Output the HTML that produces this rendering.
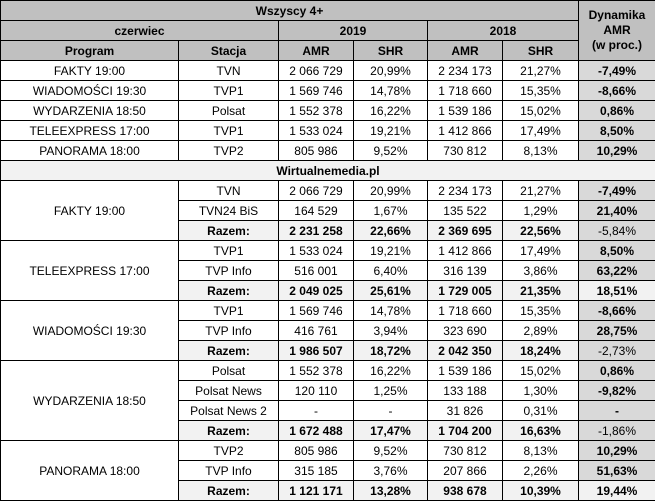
<!DOCTYPE html>
<html><head><meta charset="utf-8"><style>
html,body{margin:0;padding:0;background:#fff;width:655px;height:501px;overflow:hidden}
table{border-collapse:collapse;table-layout:fixed;width:655px;font-family:"Liberation Sans",Arial,sans-serif;font-size:12px;color:#000}
td{border:1px solid #000;height:19px;padding:0;text-align:center;vertical-align:middle;white-space:nowrap;overflow:hidden;line-height:14px}
.h{background:#c0c0c0;font-weight:bold}
.d{background:#d9d9d9;font-weight:bold}
.dn{background:#d9d9d9}
.r td{background:#f2f2f2;font-weight:bold}
.r td.dn{background:#d9d9d9;font-weight:normal}
.w{background:#f2f2f2;font-weight:bold}
</style></head><body>
<table>
<colgroup><col style="width:178px"><col style="width:100px"><col style="width:75px"><col style="width:74px"><col style="width:75px"><col style="width:76px"><col style="width:77px"></colgroup>
<tr><td class="h" colspan="6">Wszyscy 4+</td><td class="h" rowspan="3" style="line-height:15px">Dynamika<br>AMR<br>(w proc.)</td></tr>
<tr><td class="h" colspan="2">czerwiec</td><td class="h" colspan="2">2019</td><td class="h" colspan="2">2018</td></tr>
<tr><td class="h">Program</td><td class="h">Stacja</td><td class="h">AMR</td><td class="h">SHR</td><td class="h">AMR</td><td class="h">SHR</td></tr>
<tr><td>FAKTY 19:00</td><td>TVN</td><td>2 066 729</td><td>20,99%</td><td>2 234 173</td><td>21,27%</td><td class="d">-7,49%</td></tr>
<tr><td>WIADOMOŚCI 19:30</td><td>TVP1</td><td>1 569 746</td><td>14,78%</td><td>1 718 660</td><td>15,35%</td><td class="d">-8,66%</td></tr>
<tr><td>WYDARZENIA 18:50</td><td>Polsat</td><td>1 552 378</td><td>16,22%</td><td>1 539 186</td><td>15,02%</td><td class="d">0,86%</td></tr>
<tr><td>TELEEXPRESS 17:00</td><td>TVP1</td><td>1 533 024</td><td>19,21%</td><td>1 412 866</td><td>17,49%</td><td class="d">8,50%</td></tr>
<tr><td>PANORAMA 18:00</td><td>TVP2</td><td>805 986</td><td>9,52%</td><td>730 812</td><td>8,13%</td><td class="d">10,29%</td></tr>
<tr><td class="w" colspan="7">Wirtualnemedia.pl</td></tr>
<tr><td rowspan="3">FAKTY 19:00</td><td>TVN</td><td>2 066 729</td><td>20,99%</td><td>2 234 173</td><td>21,27%</td><td class="d">-7,49%</td></tr>
<tr><td>TVN24 BiS</td><td>164 529</td><td>1,67%</td><td>135 522</td><td>1,29%</td><td class="d">21,40%</td></tr>
<tr class="r"><td>Razem:</td><td>2 231 258</td><td>22,66%</td><td>2 369 695</td><td>22,56%</td><td class="dn">-5,84%</td></tr>
<tr><td rowspan="3">TELEEXPRESS 17:00</td><td>TVP1</td><td>1 533 024</td><td>19,21%</td><td>1 412 866</td><td>17,49%</td><td class="d">8,50%</td></tr>
<tr><td>TVP Info</td><td>516 001</td><td>6,40%</td><td>316 139</td><td>3,86%</td><td class="d">63,22%</td></tr>
<tr class="r"><td>Razem:</td><td>2 049 025</td><td>25,61%</td><td>1 729 005</td><td>21,35%</td><td class="d">18,51%</td></tr>
<tr><td rowspan="3">WIADOMOŚCI 19:30</td><td>TVP1</td><td>1 569 746</td><td>14,78%</td><td>1 718 660</td><td>15,35%</td><td class="d">-8,66%</td></tr>
<tr><td>TVP Info</td><td>416 761</td><td>3,94%</td><td>323 690</td><td>2,89%</td><td class="d">28,75%</td></tr>
<tr class="r"><td>Razem:</td><td>1 986 507</td><td>18,72%</td><td>2 042 350</td><td>18,24%</td><td class="dn">-2,73%</td></tr>
<tr><td rowspan="4">WYDARZENIA 18:50</td><td>Polsat</td><td>1 552 378</td><td>16,22%</td><td>1 539 186</td><td>15,02%</td><td class="d">0,86%</td></tr>
<tr><td>Polsat News</td><td>120 110</td><td>1,25%</td><td>133 188</td><td>1,30%</td><td class="d">-9,82%</td></tr>
<tr><td>Polsat News 2</td><td>-</td><td>-</td><td>31 826</td><td>0,31%</td><td class="d">-</td></tr>
<tr class="r"><td>Razem:</td><td>1 672 488</td><td>17,47%</td><td>1 704 200</td><td>16,63%</td><td class="dn">-1,86%</td></tr>
<tr><td rowspan="3">PANORAMA 18:00</td><td>TVP2</td><td>805 986</td><td>9,52%</td><td>730 812</td><td>8,13%</td><td class="d">10,29%</td></tr>
<tr><td>TVP Info</td><td>315 185</td><td>3,76%</td><td>207 866</td><td>2,26%</td><td class="d">51,63%</td></tr>
<tr class="r"><td>Razem:</td><td>1 121 171</td><td>13,28%</td><td>938 678</td><td>10,39%</td><td class="d">19,44%</td></tr>
</table>
</body></html>
